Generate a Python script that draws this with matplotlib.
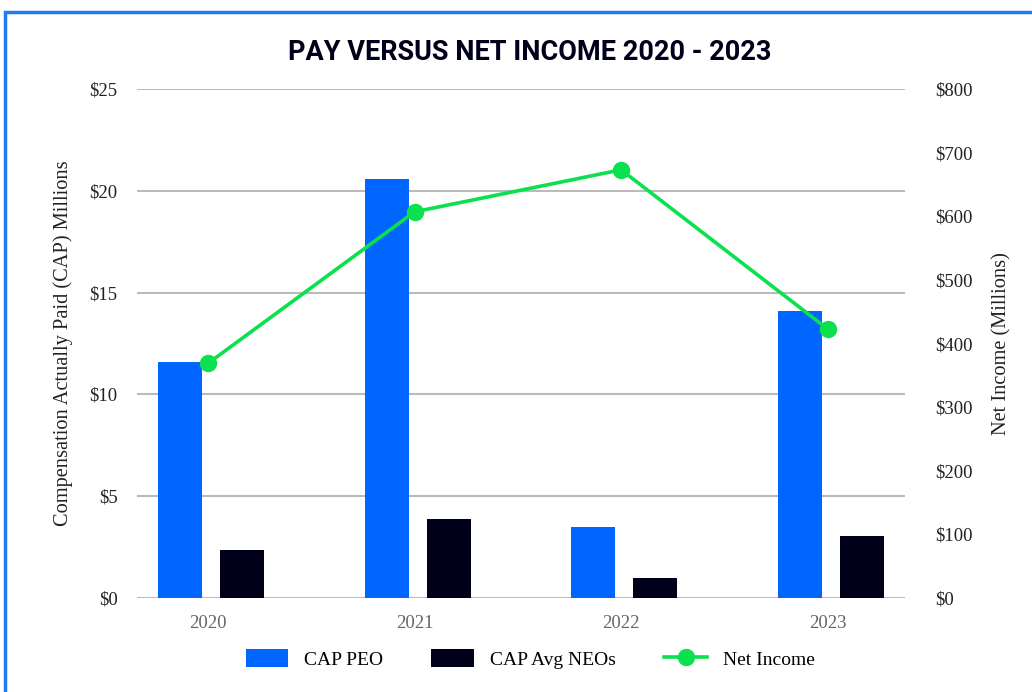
import matplotlib
matplotlib.use("Agg")
import matplotlib.pyplot as plt
from matplotlib.patches import Rectangle, Patch
from matplotlib.lines import Line2D
import numpy as np

years = ["2020", "2021", "2022", "2023"]
cap_peo = [11.6, 20.6, 3.5, 14.1]
cap_neo = [2.35, 3.9, 1.0, 3.05]
net_income = [369, 607, 673, 423]
left_ticks = [0, 5, 10, 15, 20, 25]
right_ticks = [0, 100, 200, 300, 400, 500, 600, 700, 800]

BLUE = "#0066FF"
NAVY = "#00001A"
GREEN = "#0BE04F"
GRID = "#BBBBBB"
SERIF = ["Liberation Serif", "DejaVu Serif"]
TITLEFONT = ["Roboto", "DejaVu Sans"]

fig = plt.figure(figsize=(10.32, 6.92), dpi=100)
fig.patch.set_facecolor("white")

# blue frame (cut off at right and bottom)
fig.patches.append(Rectangle((5 / 1032, -0.05), 1.2, 1.05 - 12 / 692,
                             transform=fig.transFigure, fill=False,
                             edgecolor="#1E7BF0", linewidth=2.5))

ax = fig.add_axes([137 / 1032, 1 - 598 / 692, (905 - 137) / 1032, (598 - 89) / 692])
ax2 = ax.twinx()

x = np.arange(len(years))
w = 0.213
ax.bar(x - 0.135, cap_peo, width=w, color=BLUE, zorder=3)
ax.bar(x + 0.165, cap_neo, width=w, color=NAVY, zorder=3)

ax.set_xlim(-0.345, 3.375)
ax.set_ylim(0, 25)
ax.set_yticks(left_ticks)
ax.set_yticklabels([f"${v}" for v in left_ticks], fontfamily=SERIF, fontsize=13.5, color="#222222")
ax.set_xticks(x)
ax.set_xticklabels(years, fontfamily=SERIF, fontsize=13.5, color="#666666")
ax.tick_params(axis="both", length=0)
ax.tick_params(axis="y", pad=14)
ax.tick_params(axis="x", pad=12)
ax.yaxis.grid(True, color=GRID, linewidth=1.5, zorder=0)
ax.set_axisbelow(True)
for s in ax.spines.values():
    s.set_visible(False)
ax.set_ylabel("Compensation Actually Paid (CAP) Millions", fontfamily=SERIF,
              fontsize=14.7, color="#222222", labelpad=12)

ax2.plot(x, net_income, color=GREEN, linewidth=2.6, marker="o", markersize=11.5, zorder=5)
ax2.set_ylim(0, 800)
ax2.set_yticks(right_ticks)
ax2.set_yticklabels([f"${v}" for v in right_ticks], fontfamily=SERIF, fontsize=13.5, color="#222222")
ax2.tick_params(axis="y", length=0, pad=22)
for s in ax2.spines.values():
    s.set_visible(False)
ax2.set_ylabel("Net Income (Millions)", fontfamily=SERIF, fontsize=14.7,
               color="#222222", labelpad=14)

fig.text(530 / 1032, 1 - 53 / 692, "PAY VERSUS NET INCOME 2020 - 2023", ha="center", va="center",
         fontfamily=TITLEFONT, fontweight="bold", fontsize=19.5, color="#00001A")

handles = [Patch(facecolor=BLUE, label="CAP PEO"),
           Patch(facecolor=NAVY, label="CAP Avg NEOs"),
           Line2D([0], [0], color=GREEN, linewidth=2.6, marker="o", markersize=11.5, label="Net Income")]
fig.legend(handles=handles, loc="center", bbox_to_anchor=(530 / 1032, 1 - 659 / 692), ncol=3,
           frameon=False, prop={"family": SERIF, "size": 14}, handlelength=2.2,
           handleheight=1.0, columnspacing=2.5, handletextpad=0.8)

fig.savefig("out.png", dpi=100, facecolor="white")
